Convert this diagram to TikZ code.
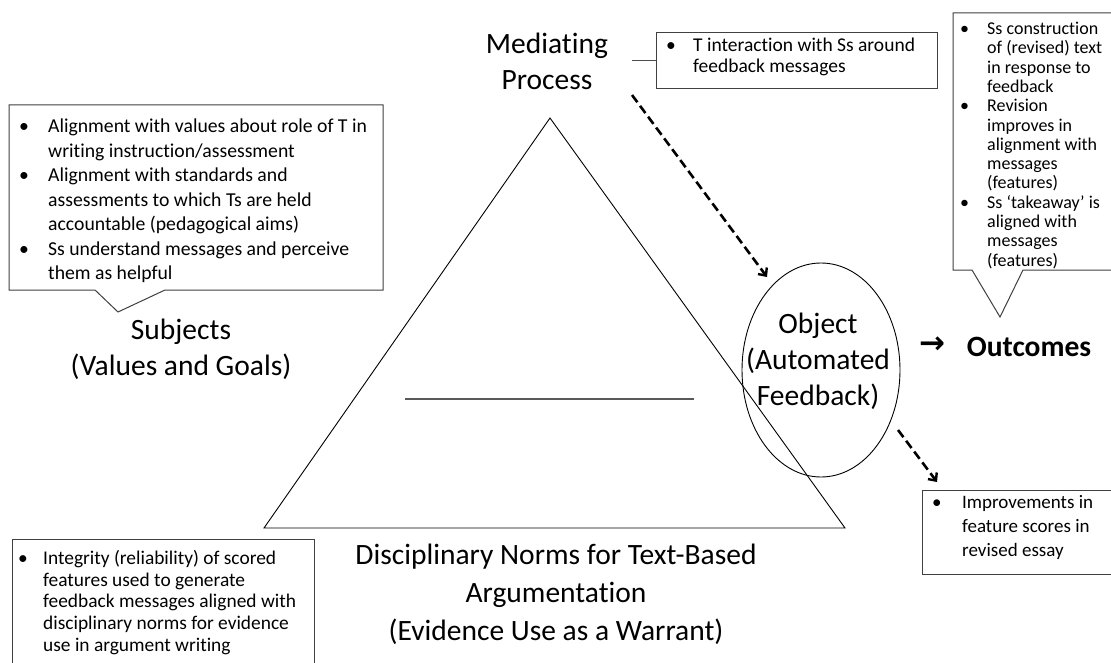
\documentclass[tikz,border=0pt]{standalone}
\usepackage{fontspec}
\setmainfont{Carlito}[Ligatures=NoCommon]
\newfontfamily\dejavu{DejaVu Sans}
\usetikzlibrary{arrows.meta,shapes.geometric}
\tikzset{
  boxline/.style={draw=black!75, line width=1pt},
  thinline/.style={draw=black, line width=0.9pt},
  dasharrow/.style={draw=black, line width=2.6pt, dash pattern=on 9pt off 4.5pt,
    -{Straight Barb[length=6pt,width=11pt,line width=2.4pt]}},
  biglabel/.style={font=\fontsize{29.5}{36}\selectfont, align=center, inner sep=0pt},
  blist/.style={anchor=north west, inner sep=0pt},
}
\newcommand{\bul}[2]{\hangindent=#1\hangafter=1\noindent\makebox[#1][l]{\textbullet}#2\par}
\newcommand{\bbox}[2]{\parbox[t]{#1}{\raggedright\def\\{\newline}#2}}
\begin{document}
\begin{tikzpicture}[x=1pt,y=-1pt]
\useasboundingbox (0,0) rectangle (1111,663);
\fill[white] (0,0) rectangle (1111,663);

% triangle
\coordinate (apex) at (550,118);
\coordinate (bl) at (264,528);
\coordinate (br) at (845,528);
\draw[thinline] (apex) -- (br) -- (bl) -- cycle;
\coordinate (hl) at (405,399);
\coordinate (hr) at (694,399);
\draw[draw=black!65, line width=1.2pt] (hl) -- (hr);

% left callout (Subjects)
\draw[boxline] (9,105) -- (383,105) -- (383,290) -- (165,290) -- (118,312) -- (95,290) -- (9,290) -- cycle;
\node[blist, font=\fontsize{19.7}{24.5}\selectfont] (subjlist) at (19,119) {\bbox{400pt}{%
\bul{29pt}{Alignment with values about role of T in\\writing instruction/assessment}
\bul{29pt}{Alignment with standards and\\assessments to which Ts are held\\accountable (pedagogical aims)}
\bul{29pt}{Ss understand messages and perceive\\them as helpful}}};
\node[biglabel] (subj) at (181,349) {Subjects\\(Values and Goals)};

% mediating process
\node[biglabel] (med) at (547,61) {Mediating\\Process};
\draw[boxline] (656,33) rectangle (937,89);
\coordinate (medbox) at (656,60);
\coordinate (medline) at (632,60);
\draw[draw=black!70, line width=0.8pt] (medline) -- (medbox);
\node[blist, font=\fontsize{19.5}{21}\selectfont] (medlist) at (666,38) {\bbox{300pt}{%
\bul{27pt}{T interaction with Ss around\\feedback messages}}};

% object ellipse
\node[draw=black, line width=0.9pt, ellipse, minimum width=158pt, minimum height=214pt, inner sep=0pt] (objell) at (821,370) {};
\node[biglabel] (obj) at (818,361) {Object\\(Automated\\Feedback)};

% outcomes
\node[inner sep=0pt, font=\dejavu\bfseries\fontsize{31}{34}\selectfont] (arr) at (932,345) {→};
\node[inner sep=0pt, font=\bfseries\fontsize{29.5}{36}\selectfont] (out) at (1029,347) {Outcomes};

% top-right callout
\draw[boxline] (1125,13) -- (953,13) -- (953,270) -- (972,270) -- (1000,317) -- (1023,270) -- (1125,270);
\node[blist, font=\fontsize{18}{19.3}\selectfont] (outlist) at (960,22) {\bbox{200pt}{%
\bul{27pt}{Ss construction\\of (revised) text\\in response to\\feedback}
\bul{27pt}{Revision\\improves in\\alignment with\\messages\\(features)}
\bul{27pt}{Ss ‘takeaway’ is\\aligned with\\messages\\(features)}}};

% dashed arrows
\coordinate (d1s) at (632,95);
\coordinate (d1e) at (767,277);
\draw[dasharrow] (d1s) -- (d1e);
\coordinate (d2s) at (898,430);
\coordinate (d2e) at (937,482);
\draw[dasharrow] (d2s) -- (d2e);

% bottom-right box
\draw[boxline] (1125,490) -- (922,490) -- (922,574) -- (1125,574);
\node[blist, font=\fontsize{19}{24}\selectfont] (implist) at (932,495) {\bbox{200pt}{%
\bul{30pt}{Improvements in\\feature scores in\\revised essay}}};

% bottom-left box
\draw[boxline] (12,680) -- (12,539) -- (314,539) -- (314,680);
\node[blist, font=\fontsize{19.4}{21.7}\selectfont] (intlist) at (18,550) {\bbox{300pt}{%
\bul{25pt}{Integrity (reliability) of scored\\features used to generate\\feedback messages aligned with\\disciplinary norms for evidence\\use in argument writing}}};

% disciplinary norms
\node[biglabel, font=\fontsize{29.5}{38}\selectfont] (disc) at (556,594) {Disciplinary Norms for Text-Based\\Argumentation\\(Evidence Use as a Warrant)};
\end{tikzpicture}
\end{document}
